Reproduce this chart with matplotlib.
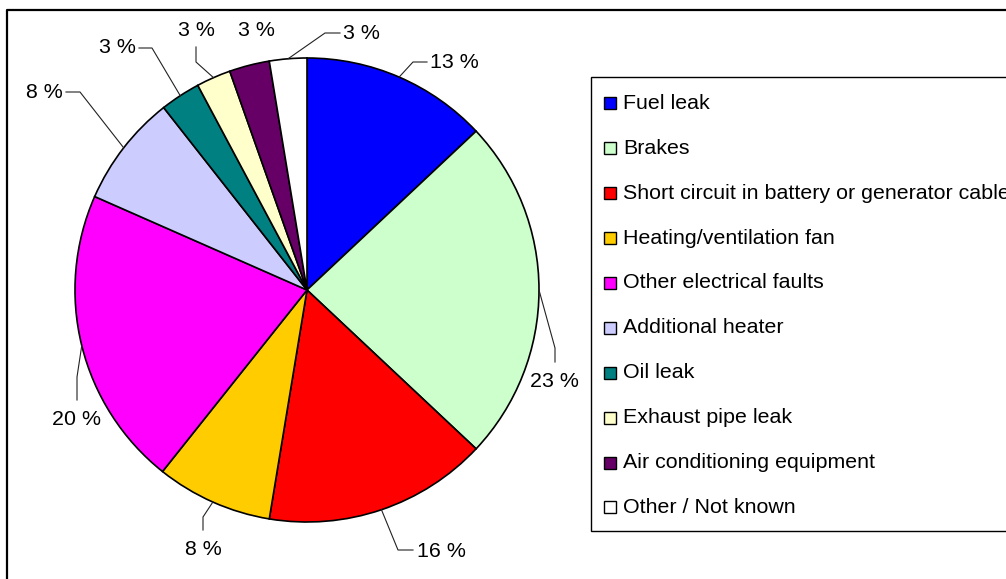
import numpy as np
import matplotlib
matplotlib.use("Agg")
import matplotlib.pyplot as plt
from matplotlib.patches import Rectangle

plt.rcParams['font.family'] = ['Liberation Sans', 'DejaVu Sans']

categories = ["Fuel leak", "Brakes", "Short circuit in battery or generator cable",
              "Heating/ventilation fan", "Other electrical faults", "Additional heater",
              "Oil leak", "Exhaust pipe leak", "Air conditioning equipment",
              "Other / Not known"]
values = [13.0, 24.0, 15.6, 8.1, 20.9, 7.8, 2.8, 2.4, 2.8, 2.6]
pct_labels = ["13 %", "23 %", "16 %", "8 %", "20 %", "8 %", "3 %", "3 %", "3 %", "3 %"]
colors = ["#0000FF", "#CCFFCC", "#FF0000", "#FFCC00", "#FF00FF", "#CCCCFF",
          "#008080", "#FFFFCC", "#660066", "#FFFFFF"]

W, H = 1006, 579
fig = plt.figure(figsize=(W / 100, H / 100), dpi=100)
ax = fig.add_axes([0, 0, 1, 1])

def Y(y):
    return H - y

cx, cy, R = 307, 290, 232
wedges, _ = ax.pie(values, colors=colors, startangle=90, counterclock=False,
                   center=(cx, Y(cy)), radius=R,
                   wedgeprops=dict(edgecolor="black", linewidth=1.2))
ax.set_xlim(0, W)
ax.set_ylim(0, H)
ax.set_aspect('auto')
ax.axis('off')

fs = 15.4
# label layout: text left x, baseline y, leader path (after start point)
label_layout = [
    (430, 68, [(413, 62), (427, 62)]),
    (530, 387, [(555, 348), (555, 362)]),
    (417, 557, [(398, 550), (413, 550)]),
    (185, 555, [(203, 517), (203, 530)]),
    (52, 425, [(77, 377), (77, 400)]),
    (26, 98, [(80, 92), (66, 92)]),
    (99, 53, [(152, 48), (139, 48)]),
    (178, 36, [(196, 62), (196, 47)]),
    (238, 36, []),
    (343, 39, [(325, 33), (340, 33)]),
]
cum = np.cumsum([0] + values)
tot = cum[-1]
for i, (tx, ty, path) in enumerate(label_layout):
    mid = (cum[i] + cum[i + 1]) / 2 / tot * 360.0  # clockwise from top
    a = np.deg2rad(mid)
    sx, sy = cx + R * np.sin(a), cy - R * np.cos(a)
    if path:
        pts = [(sx, sy)] + path
        ax.plot([p[0] for p in pts], [Y(p[1]) for p in pts], color="#222222", lw=0.8)
    ax.text(tx, Y(ty), pct_labels[i], fontsize=fs, ha='left', va='baseline', color="black")

# legend
ax.add_patch(Rectangle((591, Y(531)), 500, 531 - 77, facecolor='white', edgecolor='black',
                       lw=1.0, clip_on=False))
for i, (cat, col) in enumerate(zip(categories, colors)):
    yc = 103.3 + i * 44.9
    ax.add_patch(Rectangle((604, Y(yc + 6)), 12, 12, facecolor=col, edgecolor='black', lw=1.0))
    ax.text(623, Y(yc + 5.5), cat, fontsize=fs, ha='left', va='baseline', color='black')

# outer frame
ax.plot([7, 7, 1100], [Y(600), Y(10), Y(10)], color='black', lw=1.6, clip_on=False)

fig.savefig("out.png", dpi=100)
